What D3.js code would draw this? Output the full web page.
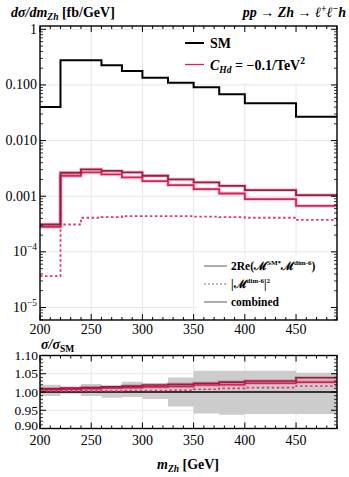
<!DOCTYPE html>
<html>
<head>
<meta charset="utf-8">
<script src="https://cdnjs.cloudflare.com/ajax/libs/d3/7.8.5/d3.min.js"></script>
<style>
    body { margin: 0; background: #fff; }
    text { font-family: "Liberation Serif", "DejaVu Serif", serif; fill: #000; }
</style>
</head>
<body>
<svg id="eg-svg" width="349" height="477"></svg>
<script>
// bin edges in m_Zh [GeV]
var binEdges = [200, 220, 240, 260, 280, 300, 325, 350, 375, 400, 450, 490];

// dsigma/dm_Zh [fb/GeV]
var smValues = [0.040, 0.277, 0.277, 0.225, 0.178, 0.135, 0.110, 0.0905, 0.068, 0.0467, 0.0268];
var interfValues = [2.8e-4, 2.33e-3, 2.68e-3, 2.47e-3, 2.18e-3, 1.87e-3, 1.58e-3, 1.34e-3, 1.12e-3, 8.9e-4, 6.7e-4];
var dim6SqValues = [3.65e-5, 3.1e-4, 4.1e-4, 4.2e-4, 4.4e-4, 4.4e-4, 4.4e-4, 4.3e-4, 4.2e-4, 4.1e-4, 3.77e-4];
var combinedValues = [3.1e-4, 2.64e-3, 3.03e-3, 2.86e-3, 2.68e-3, 2.33e-3, 2.0e-3, 1.77e-3, 1.54e-3, 1.29e-3, 1.05e-3];

// sigma / sigma_SM
var ratioCombined = [1.009, 1.011, 1.012, 1.014, 1.016, 1.019, 1.021, 1.024, 1.027, 1.030, 1.039];
var ratioInterf = [1.007, 1.008, 1.009, 1.011, 1.012, 1.014, 1.015, 1.019, 1.020, 1.024, 1.027];
var ratioDim6Sq = [1.003, 1.003, 1.003, 1.003, 1.004, 1.004, 1.005, 1.0074, 1.010, 1.012, 1.0165];
var bandUpper = [1.020, 1.013, 1.022, 1.017, 1.028, 1.024, 1.040, 1.058, 1.058, 1.058, 1.053];
var bandLower = [0.989, 0.995, 0.989, 0.984, 0.986, 0.981, 0.960, 0.941, 0.938, 0.940, 0.940];

var xTicks = [200, 250, 300, 350, 400, 450];
var yTicksMain = [1, 0.1, 0.01, 0.001, 1e-4, 1e-5];
var yTickLabelsMain = ["1", "0.100", "0.010", "0.001", "10|-4", "10|-5"];
var yTicksRatio = [0.90, 0.95, 1.00, 1.05, 1.10];
var yTickLabelsRatio = ["0.90", "0.95", "1.00", "1.05", "1.10"];

var colors = {
    sm: "#000",
    combined: "#9e1a44",
    interf: "#dc1f55",
    dim6: "#e8336b",
    band: "#cccccc",
    grid: "#e6e6e6",
    legendGrey: "#777"
};

var main = { left: 40, right: 337, top: 26, bottom: 320 };
var ratio = { left: 40, right: 337, top: 355.5, bottom: 428.5 };

var svg = d3.select("#eg-svg");

var xMain = d3.scaleLinear().domain([200, 490]).range([main.left, main.right]);
var yMain = d3.scaleLog().domain([5.96e-6, 1.146]).range([main.bottom, main.top]);
var xRatio = d3.scaleLinear().domain([200, 490]).range([ratio.left, ratio.right]);
var yRatio = d3.scaleLinear().domain([0.9, 1.1]).range([ratio.bottom, ratio.top]);

function stepPoints(values) {
    var pts = values.map(function(v, i) { return [binEdges[i], v]; });
    pts.push([binEdges[binEdges.length - 1], values[values.length - 1]]);
    return pts;
}

function stepLine(xs, ys) {
    return d3.line()
        .x(function(d) { return xs(d[0]); })
        .y(function(d) { return ys(d[1]); })
        .curve(d3.curveStepAfter);
}

svg.append("defs").selectAll("clipPath")
    .data([["clip-main", main], ["clip-ratio", ratio]])
    .enter().append("clipPath")
    .attr("id", function(d) { return d[0]; })
    .append("rect")
    .attr("x", function(d) { return d[1].left; })
    .attr("y", function(d) { return d[1].top; })
    .attr("width", function(d) { return d[1].right - d[1].left; })
    .attr("height", function(d) { return d[1].bottom - d[1].top; });

function drawGrid(xs, ys, yVals, box) {
    var g = svg.append("g").attr("class", "eg-grid");
    g.selectAll(".gx").data(xTicks.slice(1)).enter().append("line")
        .attr("x1", function(d) { return xs(d); }).attr("x2", function(d) { return xs(d); })
        .attr("y1", box.top).attr("y2", box.bottom)
        .attr("stroke", colors.grid).attr("stroke-width", 1);
    g.selectAll(".gy").data(yVals).enter().append("line")
        .attr("x1", box.left).attr("x2", box.right)
        .attr("y1", function(d) { return ys(d); }).attr("y2", function(d) { return ys(d); })
        .attr("stroke", colors.grid).attr("stroke-width", 1);
}

function drawTicks(xs, ys, box, yMajor, yMinor) {
    var g = svg.append("g").attr("class", "eg-ticks").attr("stroke", "#000");
    var xMinor = d3.range(200, 491, 10);
    xMinor.forEach(function(v) {
        var len = xTicks.indexOf(v) >= 0 ? 6 : 3;
        g.append("line").attr("x1", xs(v)).attr("x2", xs(v))
            .attr("y1", box.bottom).attr("y2", box.bottom - len).attr("stroke-width", 1);
        g.append("line").attr("x1", xs(v)).attr("x2", xs(v))
            .attr("y1", box.top).attr("y2", box.top + len).attr("stroke-width", 1);
    });
    yMinor.forEach(function(v) {
        g.append("line").attr("x1", box.left).attr("x2", box.left + 3)
            .attr("y1", ys(v)).attr("y2", ys(v)).attr("stroke-width", 0.8);
        g.append("line").attr("x1", box.right).attr("x2", box.right - 3)
            .attr("y1", ys(v)).attr("y2", ys(v)).attr("stroke-width", 0.8);
    });
    yMajor.forEach(function(v) {
        g.append("line").attr("x1", box.left).attr("x2", box.left + 6)
            .attr("y1", ys(v)).attr("y2", ys(v)).attr("stroke-width", 1);
        g.append("line").attr("x1", box.right).attr("x2", box.right - 6)
            .attr("y1", ys(v)).attr("y2", ys(v)).attr("stroke-width", 1);
    });
    svg.append("rect")
        .attr("x", box.left).attr("y", box.top)
        .attr("width", box.right - box.left).attr("height", box.bottom - box.top)
        .attr("fill", "none").attr("stroke", "#000").attr("stroke-width", 1.4);
}

function drawSeries(parent, pts, line, color, width, dash, halo) {
    if (halo) {
        parent.append("path").datum(pts)
            .attr("d", line).attr("fill", "none")
            .attr("stroke", color).attr("stroke-opacity", 0.22)
            .attr("stroke-width", width + 2);
    }
    parent.append("path").datum(pts)
        .attr("d", line).attr("fill", "none")
        .attr("stroke", color).attr("stroke-width", width)
        .attr("stroke-dasharray", dash ? dash : null);
}

// ---------- main panel ----------
drawGrid(xMain, yMain, yTicksMain, main);

// legend backgrounds hide the grid
svg.append("rect").attr("x", 180).attr("y", main.top + 1).attr("width", main.right - 181).attr("height", 56).attr("fill", "#fff");
svg.append("rect").attr("x", 197).attr("y", 255).attr("width", main.right - 198).attr("height", main.bottom - 256).attr("fill", "#fff");

var mainLine = stepLine(xMain, yMain);
var gMain = svg.append("g").attr("clip-path", "url(#clip-main)");
drawSeries(gMain, stepPoints(dim6SqValues), mainLine, colors.dim6, 1.8, "2.5,2.5", false);
drawSeries(gMain, stepPoints(interfValues), mainLine, colors.interf, 1.8, null, true);
drawSeries(gMain, stepPoints(combinedValues), mainLine, colors.combined, 1.8, null, true);
drawSeries(gMain, stepPoints(smValues), mainLine, colors.sm, 2, null, false);

var logMinor = [];
d3.range(-6, 1).forEach(function(e) {
    d3.range(2, 10).forEach(function(m) {
        var v = m * Math.pow(10, e);
        if (v > yMain.domain()[0] && v < yMain.domain()[1]) logMinor.push(v);
    });
});
drawTicks(xMain, yMain, main, yTicksMain, logMinor);

// y tick labels (main)
yTicksMain.forEach(function(v, i) {
    var parts = yTickLabelsMain[i].split("|");
    var t = svg.append("text")
        .attr("x", main.left - 3).attr("y", yMain(v) + 4.5)
        .attr("text-anchor", "end").attr("font-size", 14);
    if (parts.length === 1) {
        t.text(parts[0]);
    } else {
        t.append("tspan").text(parts[0]);
        t.append("tspan").attr("font-size", 9.5).attr("dy", -6).text(parts[1].replace("-", "\u2212"));
    }
});
// x tick labels (main)
xTicks.forEach(function(v) {
    svg.append("text").attr("x", xMain(v)).attr("y", main.bottom + 14)
        .attr("text-anchor", "middle").attr("font-size", 14).text(v);
});

// titles
var t1 = svg.append("text").attr("x", 11).attr("y", 17).attr("font-size", 14).attr("font-weight", "bold");
t1.append("tspan").attr("font-style", "italic").text("d\u03c3/dm");
t1.append("tspan").attr("font-style", "italic").attr("font-size", 9.5).attr("dy", 3).text("Zh");
t1.append("tspan").attr("dy", -3).text(" [fb/GeV]");

var t2 = svg.append("text").attr("x", 346).attr("y", 17).attr("font-size", 14)
    .attr("font-weight", "bold").attr("font-style", "italic").attr("text-anchor", "end");
t2.append("tspan").text("pp \u2192 Zh \u2192 \u2113");
t2.append("tspan").attr("font-size", 9.5).attr("dy", -5).text("+");
t2.append("tspan").attr("dy", 5).text("\u2113");
t2.append("tspan").attr("font-size", 9.5).attr("dy", -5).text("\u2212");
t2.append("tspan").attr("dy", 5).text("h");

// top legend
svg.append("line").attr("x1", 185).attr("x2", 204).attr("y1", 43).attr("y2", 43)
    .attr("stroke", colors.sm).attr("stroke-width", 2);
svg.append("text").attr("x", 210).attr("y", 48).attr("font-size", 14).attr("font-weight", "bold").text("SM");
svg.append("line").attr("x1", 185).attr("x2", 204).attr("y1", 64.5).attr("y2", 64.5)
    .attr("stroke", colors.interf).attr("stroke-width", 1.3);
var lc = svg.append("text").attr("x", 210).attr("y", 69.5).attr("font-size", 14).attr("font-weight", "bold");
lc.append("tspan").attr("font-style", "italic").text("C");
lc.append("tspan").attr("font-style", "italic").attr("font-size", 9.5).attr("dy", 3).text("Hd");
lc.append("tspan").attr("dy", -3).text(" = \u22120.1/TeV");
lc.append("tspan").attr("font-size", 9.5).attr("dy", -6).text("2");

// bottom legend
var legendRows = [
    { y: 266, dash: null, label: "interf" },
    { y: 284, dash: "2,2", label: "dim6" },
    { y: 302, dash: null, label: "combined" }
];
legendRows.forEach(function(row) {
    svg.append("line").attr("x1", 204).attr("x2", 227).attr("y1", row.y).attr("y2", row.y)
        .attr("stroke", colors.legendGrey).attr("stroke-width", 1.2)
        .attr("stroke-dasharray", row.dash);
    var t = svg.append("text").attr("x", 231).attr("y", row.y + 4).attr("font-size", 11.5).attr("font-weight", "bold");
    if (row.label === "interf") {
        t.append("tspan").text("2Re(\u2133");
        t.append("tspan").attr("font-size", 7).attr("dy", -5).text("SM*");
        t.append("tspan").attr("dy", 5).text("\u2133");
        t.append("tspan").attr("font-size", 7).attr("dy", -5).text("dim-6");
        t.append("tspan").attr("dy", 5).text(")");
    } else if (row.label === "dim6") {
        t.append("tspan").text("|\u2133");
        t.append("tspan").attr("font-size", 7).attr("dy", -5).text("dim-6");
        t.append("tspan").attr("dy", 5).text("|");
        t.append("tspan").attr("font-size", 7).attr("dy", -5).text("2");
    } else {
        t.text("combined");
    }
});

// ---------- ratio panel ----------
drawGrid(xRatio, yRatio, [0.95, 1.05], ratio);

var bandArea = d3.area()
    .x(function(d) { return xRatio(d[0]); })
    .y0(function(d) { return yRatio(d[1]); })
    .y1(function(d) { return yRatio(d[2]); })
    .curve(d3.curveStepAfter);
var bandPts = bandLower.map(function(v, i) { return [binEdges[i], v, bandUpper[i]]; });
bandPts.push([binEdges[binEdges.length - 1], bandLower[bandLower.length - 1], bandUpper[bandUpper.length - 1]]);

var gRatio = svg.append("g").attr("clip-path", "url(#clip-ratio)");
gRatio.append("path").datum(bandPts).attr("d", bandArea).attr("fill", colors.band);

var ratioLine = stepLine(xRatio, yRatio);
gRatio.append("line")
    .attr("x1", ratio.left).attr("x2", ratio.right)
    .attr("y1", yRatio(1)).attr("y2", yRatio(1))
    .attr("stroke", colors.sm).attr("stroke-width", 1.6);
drawSeries(gRatio, stepPoints(ratioDim6Sq), ratioLine, colors.dim6, 1.6, "2.5,2.5", false);
drawSeries(gRatio, stepPoints(ratioInterf), ratioLine, colors.interf, 1.6, null, true);
drawSeries(gRatio, stepPoints(ratioCombined), ratioLine, colors.combined, 1.6, null, true);

drawTicks(xRatio, yRatio, ratio, yTicksRatio, d3.range(0.91, 1.1, 0.01).filter(function(v) {
    return Math.abs(Math.round(v * 20) - v * 20) > 0.01;
}));

yTicksRatio.forEach(function(v, i) {
    svg.append("text").attr("x", ratio.left - 2).attr("y", yRatio(v) + (v === 0.9 ? 1.3 : 4.5))
        .attr("text-anchor", "end").attr("font-size", 13.5).text(yTickLabelsRatio[i]);
});
xTicks.forEach(function(v) {
    svg.append("text").attr("x", xRatio(v)).attr("y", ratio.bottom + 16.8)
        .attr("text-anchor", "middle").attr("font-size", 14).text(v);
});

var rl = svg.append("text").attr("x", 41).attr("y", 349).attr("font-size", 14).attr("font-weight", "bold");
rl.append("tspan").attr("font-style", "italic").text("\u03c3/\u03c3");
rl.append("tspan").attr("font-size", 9.5).attr("dy", 3).text("SM");

var xl = svg.append("text").attr("x", 188).attr("y", 469).attr("font-size", 14)
    .attr("font-weight", "bold").attr("text-anchor", "middle");
xl.append("tspan").attr("font-style", "italic").text("m");
xl.append("tspan").attr("font-style", "italic").attr("font-size", 9.5).attr("dy", 3).text("Zh");
xl.append("tspan").attr("dy", -3).text(" [GeV]");
</script>
</body>
</html>
